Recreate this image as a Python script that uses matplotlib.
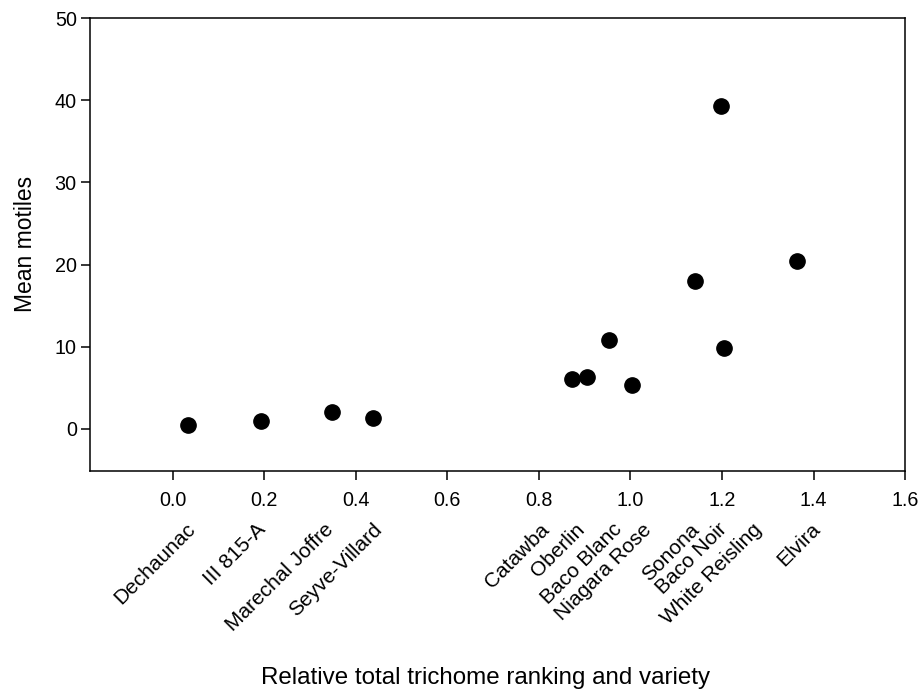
import matplotlib
matplotlib.use("Agg")
import matplotlib.pyplot as plt
import matplotlib.transforms as mtransforms

plt.rcParams["font.family"] = ["Liberation Sans", "DejaVu Sans"]

# relative total trichome ranking vs mean motiles per variety
varieties = ["Dechaunac", "III 815-A", "Marechal Joffre", "Seyve-Villard",
             "Catawba", "Oberlin", "Baco Blanc", "Niagara Rose",
             "Sonona", "Baco Noir", "White Reisling", "Elvira"]
trichome_rank = [0.034, 0.192, 0.348, 0.438,
                 0.873, 0.906, 0.953, 1.003,
                 1.140, 1.198, 1.204, 1.363]
mean_motiles = [0.45, 0.97, 2.0, 1.25,
                6.1, 6.26, 10.8, 5.32,
                17.95, 39.3, 9.87, 20.46]

# where each variety name ends under the axis (spread out so they don't collide)
label_x = [0.057, 0.211, 0.36, 0.465,
           0.832, 0.909, 0.99, 1.055,
           1.158, 1.22, 1.296, 1.423]

fig = plt.figure(figsize=(9.22, 6.90), dpi=100)
ax = fig.add_axes([0.0976, 0.318, 0.884, 0.6555])

ax.plot(trichome_rank, mean_motiles, "o", color="black", markersize=11,
        linestyle="none")

ax.set_xlim(-0.181, 1.6)
ax.set_ylim(-5.1, 50)
ax.set_xticks([0.0, 0.2, 0.4, 0.6, 0.8, 1.0, 1.2, 1.4, 1.6])
ax.set_xticklabels([f"{t:.1f}" for t in ax.get_xticks()])
ax.set_yticks([0, 10, 20, 30, 40, 50])

ax.tick_params(axis="both", direction="out", length=6.5, width=1.1,
               labelsize=14.2, color="black")
ax.tick_params(axis="x", pad=8)
ax.tick_params(axis="y", pad=3)
for side in ["top", "right", "bottom", "left"]:
    ax.spines[side].set_linewidth(1.1)

trans = mtransforms.blended_transform_factory(ax.transData, ax.transAxes)
for name, lx in zip(varieties, label_x):
    ax.text(lx, -0.109, name, transform=trans, rotation=45,
            ha="right", va="top", fontsize=15)

ax.set_ylabel("Mean motiles", fontsize=16.5, labelpad=13)
fig.text(0.527, 0.0087, "Relative total trichome ranking and variety",
         ha="center", va="baseline", fontsize=17.4)

fig.savefig("out.png", dpi=100)
